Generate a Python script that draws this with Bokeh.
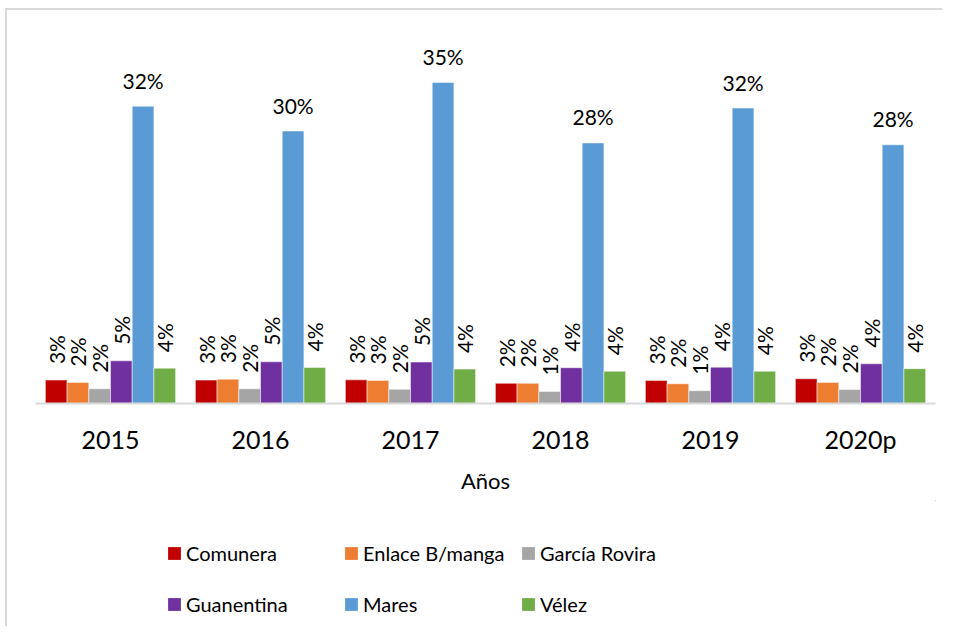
import math
from bokeh.plotting import figure
from bokeh.layouts import column
from bokeh.models import ColumnDataSource, FactorRange, Range1d, Legend, LegendItem
from bokeh.transform import dodge
from bokeh.core.properties import value
from bokeh.embed import file_html
from bokeh.resources import INLINE

years = ["2015", "2016", "2017", "2018", "2019", "2020p"]
series_names = ["Comunera", "Enlace B/manga", "García Rovira", "Guanentina", "Mares", "Vélez"]
comunera = [0.0255, 0.0255, 0.0258, 0.0220, 0.0252, 0.0270]
enlace = [0.0230, 0.0265, 0.0252, 0.0220, 0.0215, 0.0230]
garcia_rovira = [0.0160, 0.0160, 0.0155, 0.0130, 0.0140, 0.0152]
guanentina = [0.0465, 0.0455, 0.0452, 0.0390, 0.0396, 0.0433]
mares = [0.324, 0.297, 0.350, 0.284, 0.322, 0.282]
velez = [0.0385, 0.0393, 0.0375, 0.0352, 0.0352, 0.0380]
colors = ["#C00000", "#ED7D31", "#A5A5A5", "#7030A0", "#5B9BD5", "#70AD47"]

all_series = [comunera, enlace, garcia_rovira, guanentina, mares, velez]
FONT = "Lato"
BORDER = "2px solid #d9d9d9"

p = figure(x_range=FactorRange(*years, range_padding=0), y_range=Range1d(0, 0.40),
           width=937, height=492, output_backend="svg", toolbar_location=None,
           y_axis_location=None, margin=(8, 0, 0, 5),
           min_border_left=28, min_border_right=9, min_border_top=26, min_border_bottom=99)
p.styles = {"border-top": BORDER, "border-left": BORDER}
p.outline_line_color = None
p.xgrid.grid_line_color = None
p.ygrid.grid_line_color = None
p.xaxis.axis_line_color = "#d9d9d9"
p.xaxis.axis_line_width = 2
p.xaxis.major_tick_line_color = None
p.xaxis.minor_tick_line_color = None
p.xaxis.major_tick_out = 0
p.xaxis.major_label_standoff = 20
p.xaxis.major_label_text_font = FONT
p.xaxis.major_label_text_font_size = "25px"
p.xaxis.major_label_text_color = "#000000"
p.xaxis.axis_label = "Años"
p.xaxis.axis_label_text_font = FONT
p.xaxis.axis_label_text_font_size = "22px"
p.xaxis.axis_label_text_font_style = "normal"
p.xaxis.axis_label_text_color = "#000000"
p.xaxis.axis_label_standoff = 10

w = 0.1447
for k, (name, vals, col) in enumerate(zip(series_names, all_series, colors)):
    off = (k - 2.5) * w
    src = ColumnDataSource(dict(x=years, top=vals, label=[f"{round(v * 100)}%" for v in vals]))
    p.vbar(x=dodge("x", off, range=p.x_range), top="top", width=w, source=src,
           fill_color=col, line_color="white", line_width=0.5)
    if name == "Mares":
        p.text(x=dodge("x", off, range=p.x_range), y="top", text="label", source=src,
               text_align="center", text_baseline="alphabetic", y_offset=-26,
               text_font=value(FONT), text_font_size="21px", text_color="#000000")
    else:
        p.text(x=dodge("x", off, range=p.x_range), y="top", text="label", source=src,
               angle=math.pi / 2, text_align="left", text_baseline="middle", y_offset=-16,
               text_font=value(FONT), text_font_size="21px", text_color="#000000")

# legend panel
lg = figure(x_range=Range1d(0, 1), y_range=Range1d(0, 1), width=937, height=126,
            output_backend="svg", toolbar_location=None, margin=(0, 0, 0, 5),
            x_axis_location=None, y_axis_location=None,
            min_border_left=0, min_border_right=0, min_border_top=0, min_border_bottom=0)
lg.styles = {"border-left": BORDER}
lg.outline_line_color = None
lg.xgrid.grid_line_color = None
lg.ygrid.grid_line_color = None
renderers = {}
for name, col in zip(series_names, colors):
    renderers[name] = lg.vbar(x=[10], top=[10], bottom=[9], width=0.1, fill_color=col, line_color=None)
# column-major filling: order so that rows read Comunera/Enlace/García, Guanentina/Mares/Vélez
legend_order = ["Comunera", "Guanentina", "Enlace B/manga", "Mares", "García Rovira", "Vélez"]
items = [LegendItem(label=n, renderers=[renderers[n]]) for n in legend_order]

legend = Legend(items=items, ncols=3, location=(131, 2),
                label_text_font=FONT, label_text_font_size="20px", label_text_color="#000000",
                glyph_width=16, glyph_height=16, label_standoff=4, label_width=147, label_height=41,
                spacing=10, padding=0, margin=0,
                border_line_alpha=0, background_fill_alpha=0)
lg.add_layout(legend, "center")

layout = column(p, lg, spacing=0)
open("out.html", "w").write(file_html(layout, INLINE))
